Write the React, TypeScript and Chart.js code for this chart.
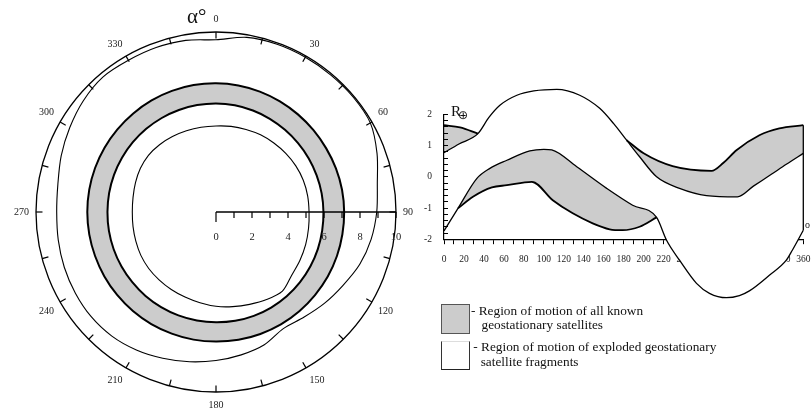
import React, { useEffect, useRef } from 'react';
import { Chart, registerables } from 'chart.js';

Chart.register(...registerables);

// ---------- polar chart data (radius in the 0..10 radial scale, every 10 degrees, clockwise from top) ----------
const ANGLE_LABELS = ['0','10','20','30','40','50','60','70','80','90','100','110','120','130','140','150','160','170',
  '180','190','200','210','220','230','240','250','260','270','280','290','300','310','320','330','340','350'];
const RING_OUTER = [7.15,7.14,7.12,7.1,7.08,7.07,7.07,7.09,7.11,7.12,7.13,7.15,7.17,7.18,7.2,7.21,7.21,7.21,
  7.2,7.2,7.19,7.19,7.18,7.17,7.16,7.15,7.15,7.15,7.15,7.15,7.15,7.15,7.15,7.16,7.16,7.16];
const RING_INNER = [6.03,6.02,6.0,5.98,5.96,5.95,5.95,5.95,5.96,5.97,5.99,6.02,6.05,6.08,6.11,6.13,6.14,6.14,
  6.13,6.12,6.11,6.1,6.09,6.07,6.06,6.05,6.04,6.03,6.03,6.03,6.03,6.03,6.03,6.03,6.03,6.03];
const FRAG_OUTER = [9.57,9.85,9.92,9.93,9.93,9.94,9.9,9.52,9.1,8.93,8.75,8.5,8.15,7.88,7.62,7.48,7.85,8.06,
  8.25,8.45,8.65,8.85,9.0,9.05,9.02,8.97,8.9,8.85,8.92,9.15,9.38,9.62,9.78,9.73,9.72,9.68];
const FRAG_INNER = [4.78,4.83,4.88,4.95,5.0,5.06,5.12,5.16,5.17,5.17,5.22,5.3,5.38,5.48,5.74,5.62,5.46,5.34,
  5.24,5.12,5.03,4.97,4.92,4.88,4.82,4.74,4.68,4.65,4.68,4.76,4.85,4.9,4.88,4.84,4.8,4.78];
const CIRCLE_TICK_DEG = [0,15,30,45,60,75,90,105,120,135,150,165,180,195,210,225,240,255,270,285,300,315,330,345];
const RADIAL_TICKS = [0,1,2,3,4,5,6,7,8,9,10];
const RADIAL_LABELS = [0,2,4,6,8,10];

// ---------- right chart data: [angle, R] ----------
const FRAG_UPPER: [number, number][] = [[0,0.77],[15,1.05],[34,1.38],[45,1.9],[56,2.29],[73,2.61],[90,2.75],[113,2.8],
  [136,2.61],[156,2.19],[170,1.7],[183,1.17],[196,0.64],[213,0.0],[236,-0.37],[263,-0.6],[294,-0.64],[310,-0.3],
  [328,0.08],[343,0.4],[360,0.75]];
const FRAG_LOWER: [number, number][] = [[0,-1.73],[14,-1.01],[33,-0.05],[46,0.27],[63,0.53],[86,0.83],[100,0.88],
  [108,0.86],[133,0.32],[163,-0.37],[189,-0.91],[213,-1.3],[223,-2.03],[236,-2.67],[253,-3.41],[266,-3.73],
  [283,-3.87],[296,-3.8],[306,-3.65],[326,-3.15],[343,-2.67],[349,-2.35],[360,-1.71]];
const KNOWN_TOP_LEFT: [number, number][] = [[0,1.65],[16,1.58],[34,1.38]];
const KNOWN_TOP_RIGHT: [number, number][] = [[183,1.17],[200,0.75],[229,0.34],[268,0.19],[280,0.45],[293,0.85],
  [316,1.33],[336,1.55],[360,1.65]];
const KNOWN_BOTTOM: [number, number][] = [[14,-1.01],[29,-0.64],[48,-0.34],[63,-0.27],[88,-0.16],[109,-0.75],
  [129,-1.17],[149,-1.49],[166,-1.68],[179,-1.71],[196,-1.6],[213,-1.3]];

const GRAY = '#cccccc';
const SERIF = '"Liberation Serif", "Times New Roman", serif';

const pts = (a: [number, number][]) => a.map(([x, y]) => ({ x, y }));

const polarAxisPlugin = {
  id: 'polarAxis',
  afterDraw(chart: any) {
    const s = chart.scales.r;
    if (!s) return;
    const ctx = chart.ctx;
    const n = chart.data.labels.length;
    ctx.save();
    ctx.strokeStyle = '#000';
    ctx.lineWidth = 1.2;
    CIRCLE_TICK_DEG.forEach((deg) => {
      const idx = (deg / 360) * n;
      const a = s.getPointPositionForValue(idx, s.max);
      const b = s.getPointPositionForValue(idx, s.max - 0.36);
      ctx.beginPath();
      ctx.moveTo(a.x, a.y);
      ctx.lineTo(b.x, b.y);
      ctx.stroke();
    });
    const y0 = s.yCenter;
    RADIAL_TICKS.forEach((v) => {
      const x = s.xCenter + s.getDistanceFromCenterForValue(v);
      ctx.beginPath();
      ctx.moveTo(x, y0);
      ctx.lineTo(x, y0 + (v === 0 ? 10 : 6));
      ctx.stroke();
    });
    ctx.fillStyle = '#222';
    ctx.font = '10.5px ' + SERIF;
    ctx.textAlign = 'center';
    ctx.textBaseline = 'middle';
    RADIAL_LABELS.forEach((v) => {
      const x = s.xCenter + s.getDistanceFromCenterForValue(v);
      ctx.fillText(String(v), x, y0 + 25);
    });
    ctx.restore();
  },
};

const AXIS_WIDTH = 24;
const hiddenStackAxis = (min: number, max: number, weight: number) => ({
  type: 'linear',
  position: 'left',
  min,
  max,
  stack: 'v',
  stackWeight: max - min,
  weight,
  afterFit: (s: any) => { s.width = AXIS_WIDTH; },
  ticks: { display: false },
  grid: { display: false, drawTicks: false },
  border: { display: false },
});

export default function App() {
  const polarRef = useRef<HTMLCanvasElement>(null);
  const lineRef = useRef<HTMLCanvasElement>(null);

  useEffect(() => {
    const axisIndex = ANGLE_LABELS.indexOf('90');
    const polar = new Chart(polarRef.current as HTMLCanvasElement, {
      type: 'radar',
      data: {
        labels: ANGLE_LABELS,
        datasets: [
          { label: 'ring outer', data: RING_OUTER, borderColor: '#000', borderWidth: 2, backgroundColor: GRAY, fill: '+1' },
          { label: 'ring inner', data: RING_INNER, borderColor: '#000', borderWidth: 2, fill: false },
          { label: 'fragments outer', data: FRAG_OUTER, borderColor: '#000', borderWidth: 1.1, fill: false },
          { label: 'fragments inner', data: FRAG_INNER, borderColor: '#000', borderWidth: 1.1, fill: false },
        ],
      },
      options: {
        responsive: false,
        animation: false,
        layout: { padding: 0 },
        elements: { point: { radius: 0, hoverRadius: 0 }, line: { tension: 0.3 } },
        plugins: {
          legend: { display: false },
          tooltip: { enabled: false },
          filler: { drawTime: 'beforeDatasetsDraw' },
        } as any,
        scales: {
          r: {
            min: 0,
            max: 10,
            startAngle: 0,
            ticks: { display: false, stepSize: 10 },
            grid: { circular: true, color: '#000', lineWidth: 1.3, z: 1 } as any,
            angleLines: {
              display: true,
              color: '#000',
              lineWidth: (c: any) => (c.index === axisIndex ? 1.3 : 0),
            },
            pointLabels: {
              display: true,
              padding: 7,
              color: '#222',
              font: { family: SERIF, size: 10 },
              callback: (l: string) => (Number(l) % 30 === 0 ? l : ''),
            },
          },
        },
      },
      plugins: [polarAxisPlugin],
    } as any);

    const common = { pointRadius: 0, borderColor: '#000', cubicInterpolationMode: 'monotone', clip: false, xAxisID: 'x', yAxisID: 'y' };
    const line = new Chart(lineRef.current as HTMLCanvasElement, {
      type: 'line',
      data: {
        datasets: [
          { ...common, label: 'fragments upper', data: pts(FRAG_UPPER), borderWidth: 1.3, backgroundColor: '#ffffff', fill: 1, order: 10 },
          { ...common, label: 'fragments lower', data: pts(FRAG_LOWER), borderWidth: 1.3, fill: false, order: 9 },
          { ...common, label: 'known top left', data: pts(KNOWN_TOP_LEFT), borderWidth: 1.8, backgroundColor: GRAY, fill: 0, order: 3 },
          { ...common, label: 'known top right', data: pts(KNOWN_TOP_RIGHT), borderWidth: 1.8, backgroundColor: GRAY, fill: 0, order: 2 },
          { ...common, label: 'known bottom', data: pts(KNOWN_BOTTOM), borderWidth: 1.8, backgroundColor: GRAY, fill: 1, order: 1 },
          {
            ...common,
            label: 'edge',
            data: [
              { x: KNOWN_TOP_RIGHT[KNOWN_TOP_RIGHT.length - 1][0], y: KNOWN_TOP_RIGHT[KNOWN_TOP_RIGHT.length - 1][1] },
              { x: FRAG_LOWER[FRAG_LOWER.length - 1][0], y: FRAG_LOWER[FRAG_LOWER.length - 1][1] },
            ],
            borderWidth: 1.3,
            fill: false,
            order: 0,
          },
        ],
      },
      options: {
        responsive: false,
        animation: false,
        layout: { padding: { top: 84.6, bottom: 107.1, left: 0, right: 8.7 } },
        plugins: {
          legend: { display: false },
          tooltip: { enabled: false },
          filler: { drawTime: 'beforeDatasetsDraw' },
        } as any,
        scales: {
          x: {
            type: 'linear',
            axis: 'x',
            min: 0,
            max: 360,
            position: { y: -2 },
            afterFit: (s: any) => { s.paddingLeft = 0; s.paddingRight = 0; },
            ticks: {
              stepSize: 10,
              autoSkip: false,
              maxRotation: 0,
              padding: 11,
              color: '#222',
              font: { family: SERIF, size: 9.5 },
              callback: (v: number) => (v % 20 === 0 ? String(v) : ''),
            },
            grid: { drawOnChartArea: false, tickLength: 4, color: '#000' },
            border: { color: '#000', width: 1.2 },
          },
          yTop: hiddenStackAxis(2, 2.95, 3),
          y: {
            type: 'linear',
            position: 'left',
            min: -2,
            max: 2,
            stack: 'v',
            stackWeight: 4,
            weight: 2,
            afterFit: (s: any) => { s.width = AXIS_WIDTH; },
            ticks: {
              stepSize: 0.2,
              autoSkip: false,
              padding: 16,
              color: '#222',
              font: { family: SERIF, size: 9.5 },
              callback: (v: number) => (Math.abs(v - Math.round(v)) < 1e-6 ? String(Math.round(v)) : ''),
            },
            grid: { drawOnChartArea: false, tickLength: -4, color: '#000', z: 1 },
            border: { color: '#000', width: 1.2, z: 1 },
          },
          yBot: hiddenStackAxis(-4.1, -2, 1),
        },
      },
    } as any);

    return () => {
      polar.destroy();
      line.destroy();
    };
  }, []);

  const txt = (extra: React.CSSProperties): React.CSSProperties => ({
    position: 'absolute',
    fontFamily: SERIF,
    color: '#111',
    whiteSpace: 'nowrap',
    ...extra,
  });

  return (
    <div style={{ position: 'fixed', left: 0, top: 0, width: 812, height: 412, overflow: 'hidden', background: '#fff' }}>
      <canvas ref={polarRef} width={432} height={398} style={{ position: 'absolute', left: -2, top: 13 }} />
      <canvas ref={lineRef} width={392} height={412} style={{ position: 'absolute', left: 420, top: 0 }} />
      <span style={txt({ left: 187, top: 6, fontSize: 21, lineHeight: '21px' })}>α°</span>
      <span style={txt({ left: 451, top: 104, fontSize: 15, lineHeight: '15px' })}>R</span>
      <span style={txt({ left: 458, top: 109, fontSize: 12, lineHeight: '12px', fontFamily: '"DejaVu Sans", sans-serif' })}>⊕</span>
      <span style={txt({ left: 805, top: 220, fontSize: 10, lineHeight: '10px' })}>o</span>
      <div style={{ position: 'absolute', left: 441, top: 304, width: 27, height: 28, background: GRAY, border: '1px solid #555' }} />
      <div style={{ position: 'absolute', left: 441, top: 341, width: 27, height: 27, background: '#fff', borderLeft: '1px solid #333', borderRight: '1px solid #333', borderBottom: '1.5px solid #222', borderTop: '1px solid #ddd' }} />
      <span style={txt({ left: 471, top: 303.5, fontSize: 13.3, lineHeight: '14.6px' })}>- Region of motion of all known</span>
      <span style={txt({ left: 481.5, top: 318.2, fontSize: 13.3, lineHeight: '14.6px' })}>geostationary satellites</span>
      <span style={txt({ left: 473.3, top: 340.2, fontSize: 13.3, lineHeight: '14.6px' })}>- Region of motion of exploded geostationary</span>
      <span style={txt({ left: 480.7, top: 354.6, fontSize: 13.3, lineHeight: '14.6px' })}>satellite fragments</span>
    </div>
  );
}
